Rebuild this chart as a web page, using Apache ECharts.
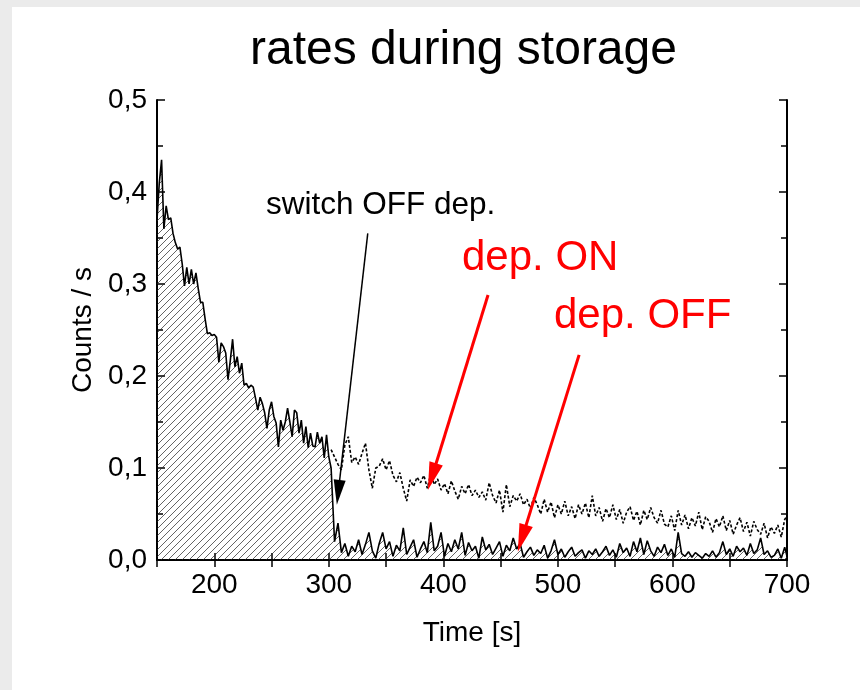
<!DOCTYPE html>
<html><head><meta charset="utf-8">
<script src="https://cdn.jsdelivr.net/npm/echarts@6/dist/echarts.min.js"></script>
<style>
html,body{margin:0;padding:0;background:#ebebeb;}
#wrap{position:relative;width:860px;height:690px;overflow:hidden;}
#panel{position:absolute;left:12px;top:7px;right:0;bottom:0;background:#fff;}
#chart{position:absolute;left:0;top:0;width:860px;height:690px;}
</style></head><body>
<div id="wrap"><div id="panel"></div><div id="chart"></div></div>
<script>
// ---- data ----
const timeEarly = [150,152,154,156,158,160,162,164,166,168,170,172,174,176,178,180,182,184,186,188,
190,192,194,196,198,200,202,204,206,208,210,212,214,216,218,220,222,224,226,228,
230,232,234,236,238,240,242,244,246,248,250,252,254,256,258,260,262,264,266,268,
270,272,274,276,278,280,282,284,286,288,290,292,294,296,298,300];
const rateOffEarly = [0.370,0.410,0.435,0.360,0.385,0.370,0.372,0.355,0.345,0.338,
0.340,0.322,0.298,0.318,0.300,0.316,0.300,0.312,0.295,0.280,
0.280,0.262,0.246,0.247,0.244,0.245,0.242,0.215,0.236,0.232,
0.225,0.196,0.217,0.240,0.210,0.221,0.203,0.214,0.190,0.192,
0.187,0.190,0.188,0.176,0.163,0.177,0.170,0.160,0.143,0.163,
0.172,0.156,0.149,0.123,0.152,0.141,0.150,0.165,0.150,0.134,
0.163,0.160,0.138,0.152,0.127,0.145,0.122,0.138,0.124,0.123,
0.139,0.127,0.134,0.111,0.136,0.112];
const timeLate = [302,305,308,311,314,317,320,323,326,329,
332,335,338,341,344,347,350,353,356,359,
362,365,368,371,374,377,380,383,386,389,
392,395,398,401,404,407,410,413,416,419,
422,425,428,431,434,437,440,443,446,449,
452,455,458,461,464,467,470,473,476,479,
482,485,488,491,494,497,500,503,506,509,
512,515,518,521,524,527,530,533,536,539,
542,545,548,551,554,557,560,563,566,569,
572,575,578,581,584,587,590,593,596,599,
602,605,608,611,614,617,620,623,626,629,
632,635,638,641,644,647,650,653,656,659,
662,665,668,671,674,677,680,683,686,689,
692,695,698,700];
const rateOffLate = [0.100,0.020,0.040,0.008,0.018,0.004,0.015,0.009,0.022,0.006,
0.017,0.030,0.010,0.002,0.018,0.030,0.012,0.020,0.004,0.016,
0.010,0.035,0.006,0.014,0.022,0.003,0.012,0.020,0.008,0.041,
0.010,0.015,0.030,0.004,0.018,0.009,0.022,0.012,0.030,0.005,
0.019,0.010,0.015,0.002,0.025,0.011,0.017,0.006,0.013,0.020,
0.004,0.016,0.010,0.024,0.012,0.018,0.003,0.009,0.014,0.005,
0.011,0.007,0.016,0.002,0.010,0.022,0.006,0.012,0.003,0.009,
0.014,0.004,0.008,0.011,0.002,0.010,0.006,0.012,0.004,0.009,
0.015,0.005,0.011,0.003,0.018,0.008,0.013,0.004,0.020,0.009,
0.024,0.006,0.021,0.010,0.004,0.014,0.008,0.017,0.005,0.012,
0.003,0.030,0.007,0.004,0.009,0.003,0.008,0.005,0.002,0.007,
0.004,0.010,0.003,0.008,0.020,0.006,0.012,0.004,0.015,0.009,
0.013,0.005,0.018,0.007,0.011,0.024,0.006,0.010,0.003,0.005,
0.012,0.002,0.014,0.004];
const rateOnLate = [0.120,0.112,0.104,0.098,0.125,0.134,0.106,0.112,0.104,0.116,
0.127,0.098,0.078,0.100,0.102,0.110,0.098,0.108,0.092,0.085,
0.095,0.078,0.064,0.087,0.080,0.090,0.084,0.092,0.078,0.094,
0.082,0.088,0.076,0.083,0.072,0.086,0.075,0.066,0.080,0.072,
0.082,0.070,0.076,0.068,0.074,0.065,0.084,0.070,0.062,0.076,
0.052,0.082,0.058,0.070,0.064,0.072,0.060,0.066,0.056,0.068,
0.060,0.050,0.066,0.052,0.063,0.046,0.060,0.050,0.064,0.048,
0.058,0.045,0.060,0.050,0.062,0.046,0.070,0.048,0.057,0.042,
0.056,0.046,0.060,0.044,0.055,0.040,0.052,0.058,0.043,0.053,
0.038,0.054,0.044,0.057,0.046,0.040,0.054,0.039,0.036,0.048,
0.032,0.054,0.038,0.049,0.034,0.046,0.037,0.052,0.033,0.047,
0.042,0.030,0.045,0.036,0.048,0.032,0.043,0.028,0.038,0.046,
0.031,0.041,0.026,0.042,0.033,0.028,0.040,0.024,0.036,0.029,
0.038,0.025,0.044,0.048];
const xTickValues = [200,300,400,500,600,700];
const yTickValues = [0.0,0.1,0.2,0.3,0.4,0.5];
// annotation arrows: [startTime, startRate, endTime, endRate]
const arrowSwitch = [334, 0.355, 307, 0.060];
const arrowOn = [439, 0.288, 386.5, 0.076];
const arrowOff = [518.5, 0.223, 465, 0.009];

// ---- build ----
const offData = timeEarly.map((t,i)=>[t, rateOffEarly[i]]).concat(timeLate.map((t,i)=>[t, rateOffLate[i]]));
const onData = timeLate.map((t,i)=>[t, rateOnLate[i]]);

const pc = document.createElement('canvas');
pc.width = 7; pc.height = 7;
const g = pc.getContext('2d');
g.strokeStyle = '#222'; g.lineWidth = 0.7;
g.beginPath();
g.moveTo(0,7); g.lineTo(7,0);
g.moveTo(-1,1); g.lineTo(1,-1);
g.moveTo(6,8); g.lineTo(8,6);
g.stroke();

const FONT = 'Liberation Sans, Arial, sans-serif';
const chart = echarts.init(document.getElementById('chart'), null, {renderer:'canvas'});
const axisCommon = {
  type:'value', min:150, max:700, interval:50,
  axisLine:{show:true, lineStyle:{color:'#000', width:2}},
  axisTick:{show:true, inside:true, length:7, lineStyle:{color:'#000', width:1.5}},
  splitLine:{show:false}
};
const yCommon = {
  type:'value', min:0, max:0.5, interval:0.1,
  axisLine:{show:true, lineStyle:{color:'#000', width:2}},
  axisTick:{show:true, inside:true, length:8, lineStyle:{color:'#000', width:1.5}},
  minorTick:{show:true, splitNumber:2, length:6, lineStyle:{color:'#000', width:1.5}},
  splitLine:{show:false}
};
chart.setOption({
  animation:false,
  backgroundColor:'transparent',
  grid:{left:157, right:73, top:100, bottom:130, containLabel:false},
  xAxis:[
    Object.assign({}, axisCommon, {position:'bottom',
      name:'Time [s]', nameLocation:'middle', nameGap:59,
      nameTextStyle:{fontFamily:FONT, fontSize:28, color:'#000'},
      axisLabel:{show:true, margin:11, fontFamily:FONT, fontSize:28, color:'#000',
        formatter:v=> xTickValues.indexOf(v)>=0 ? String(v) : ''}}),
    Object.assign({}, axisCommon, {position:'top', axisLabel:{show:false}})
  ],
  yAxis:[
    Object.assign({}, yCommon, {position:'left',
      name:'Counts / s', nameLocation:'middle', nameGap:51,
      nameTextStyle:{fontFamily:FONT, fontSize:28, color:'#000'},
      axisLabel:{show:true, margin:10, fontFamily:FONT, fontSize:28, color:'#000',
        formatter:v=>{const k=yTickValues.findIndex(a=>Math.abs(a-v)<1e-9); return k>=0 ? yTickValues[k].toFixed(1).replace('.',',') : '';}}}),
    Object.assign({}, yCommon, {position:'right', axisLabel:{show:false}})
  ],
  series:[
    {name:'dep. OFF', type:'line', xAxisIndex:0, yAxisIndex:0, data:offData, showSymbol:false, symbol:'none',
      lineStyle:{color:'#000', width:1.6}, areaStyle:{color:{image:pc, repeat:'repeat'}, opacity:1, origin:'start'}, z:3},
    {name:'dep. ON', type:'line', xAxisIndex:0, yAxisIndex:0, data:onData, showSymbol:false, symbol:'none',
      lineStyle:{color:'#000', width:1.6, type:[3,2]}, z:3}
  ]
});

function arrow(a, color, lw, L, W){
  const p0 = chart.convertToPixel({xAxisIndex:0, yAxisIndex:0}, [a[0], a[1]]);
  const p1 = chart.convertToPixel({xAxisIndex:0, yAxisIndex:0}, [a[2], a[3]]);
  const dx=p1[0]-p0[0], dy=p1[1]-p0[1], len=Math.hypot(dx,dy), ux=dx/len, uy=dy/len;
  const bx=p1[0]-ux*L, by=p1[1]-uy*L, nx=-uy, ny=ux;
  return [
    {type:'line', z:10, silent:true, shape:{x1:p0[0],y1:p0[1],x2:bx+ux*2,y2:by+uy*2}, style:{stroke:color, lineWidth:lw}},
    {type:'polygon', z:10, silent:true, shape:{points:[[p1[0],p1[1]],[bx+nx*W,by+ny*W],[bx-nx*W,by-ny*W]]}, style:{fill:color}}
  ];
}
const gfx = [
  {type:'text', z:10, x:463.5, y:51, style:{text:'rates during storage', fontFamily:FONT, fontSize:48, fill:'#000', align:'center', verticalAlign:'middle'}},
  {type:'text', z:10, x:266, y:205, style:{text:'switch OFF dep.', fontFamily:FONT, fontSize:31.5, fill:'#000', align:'left', verticalAlign:'middle'}},
  {type:'text', z:10, x:462, y:258, style:{text:'dep. ON', fontFamily:FONT, fontSize:42, fill:'#ff0000', align:'left', verticalAlign:'middle'}},
  {type:'text', z:10, x:554, y:316, style:{text:'dep. OFF', fontFamily:FONT, fontSize:42, fill:'#ff0000', align:'left', verticalAlign:'middle'}}
].concat(arrow(arrowSwitch,'#000',1.5,25,6), arrow(arrowOn,'#ff0000',3,28,7), arrow(arrowOff,'#ff0000',3,28,7));
chart.setOption({graphic:gfx});
</script>
</body></html>
